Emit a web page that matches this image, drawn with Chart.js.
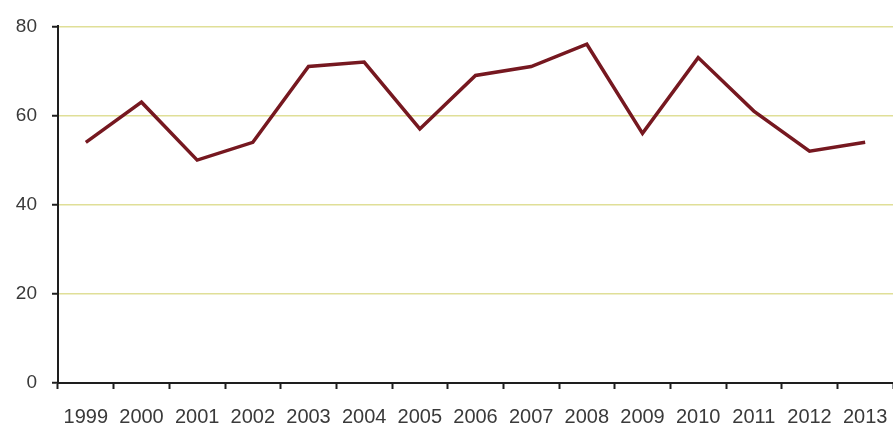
<!DOCTYPE html>
<html>
<head>
<meta charset="utf-8">
<script src="https://cdn.jsdelivr.net/npm/chart.js@4"></script>
<style>
    html, body { margin: 0; padding: 0; background: #ffffff; }
    #wrap { width: 893px; height: 427px; }
</style>
</head>
<body>
<div id="wrap"><canvas id="chart" width="893" height="427"></canvas></div>
<script>
const years = ['1999', '2000', '2001', '2002', '2003', '2004', '2005', '2006', '2007', '2008', '2009', '2010', '2011', '2012', '2013'];
const values = [54, 63, 50, 54, 71, 72, 57, 69, 71, 76, 56, 73, 61, 52, 54];
const yTicks = [0, 20, 40, 60, 80];

const textColor = '#3a3a3a';
const axisColor = '#1e1e1e';

new Chart(document.getElementById('chart').getContext('2d'), {
    type: 'line',
    data: {
        labels: years,
        datasets: [{
            data: values,
            borderColor: '#761820',
            borderWidth: 3.5,
            pointRadius: 0,
            tension: 0,
            fill: false
        }]
    },
    options: {
        responsive: false,
        animation: false,
        layout: {
            padding: { top: 25, right: -2, left: 0, bottom: 0 }
        },
        plugins: {
            legend: { display: false },
            tooltip: { enabled: false }
        },
        scales: {
            x: {
                offset: true,
                grid: {
                    offset: true,
                    drawOnChartArea: false,
                    drawTicks: true,
                    tickLength: 6,
                    tickColor: axisColor,
                    tickWidth: 2
                },
                border: { color: axisColor, width: 2 },
                ticks: {
                    color: textColor,
                    font: { family: 'Liberation Sans', size: 20 },
                    padding: 16,
                    maxRotation: 0,
                    autoSkip: false
                },
                afterFit: scale => {
                    scale.height = 44;
                    scale.paddingRight = 0;
                    scale.paddingLeft = 0;
                }
            },
            y: {
                min: 0,
                max: 80,
                afterBuildTicks: scale => {
                    scale.ticks = yTicks.map(v => ({ value: v }));
                },
                grid: {
                    color: '#e0df98',
                    lineWidth: 1.5,
                    tickLength: 6,
                    tickColor: axisColor,
                    tickWidth: 2
                },
                border: { color: axisColor, width: 2 },
                ticks: {
                    color: textColor,
                    font: { family: 'Liberation Sans', size: 19 },
                    padding: 15
                },
                afterFit: scale => { scale.width = 58; }
            }
        }
    }
});
</script>
</body>
</html>
